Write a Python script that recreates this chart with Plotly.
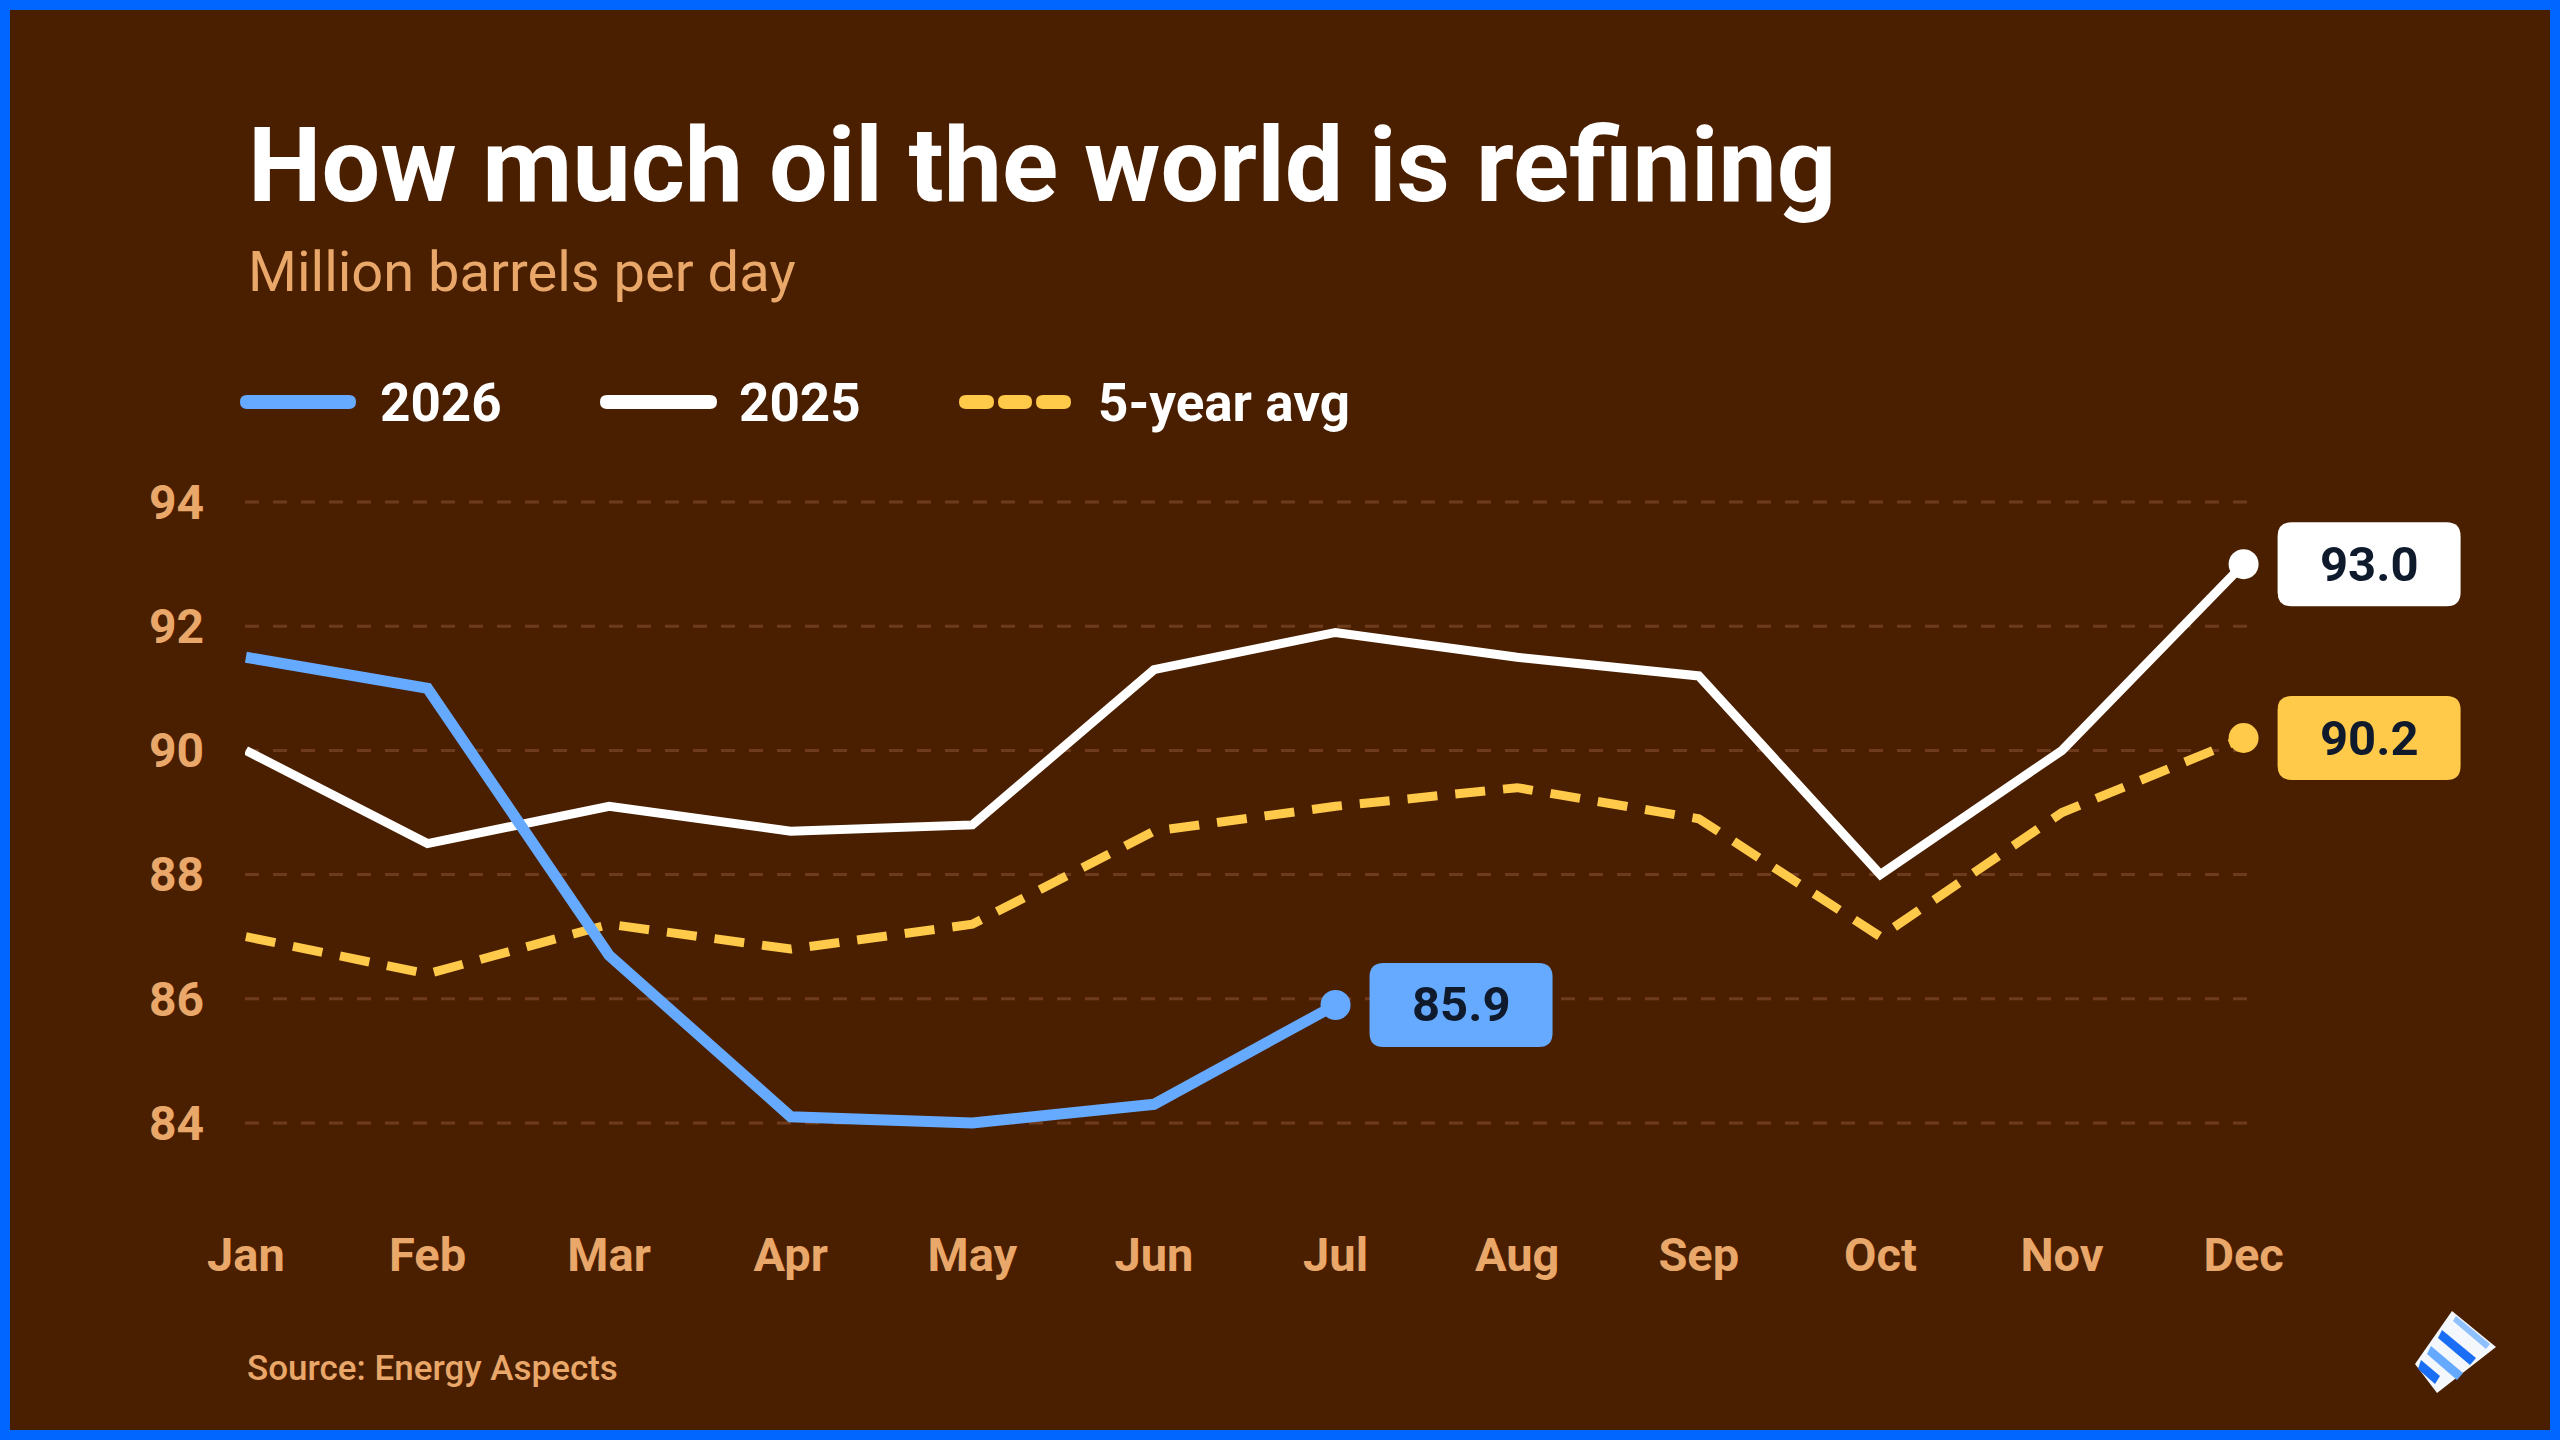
import plotly.graph_objects as go

months = ["Jan", "Feb", "Mar", "Apr", "May", "Jun", "Jul", "Aug", "Sep", "Oct", "Nov", "Dec"]
y2026 = [91.5, 91.0, 86.7, 84.1, 84.0, 84.3, 85.9]
y2025 = [90.0, 88.5, 89.1, 88.7, 88.8, 91.3, 91.9, 91.5, 91.2, 88.0, 90.0, 93.0]
avg5 = [87.0, 86.4, 87.2, 86.8, 87.2, 88.7, 89.1, 89.4, 88.9, 87.0, 89.0, 90.2]
yticks = [84, 86, 88, 90, 92, 94]

BG = "#4A1F00"
TAN = "#E9A76A"
BLUE = "#66AAFF"
WHITE = "#FFFFFF"
YELLOW = "#FFC94A"
NAVY = "#0F1B2D"
GRID = "#6E3C1C"
FRAME = "#0066FF"
FONT = "Roboto"

W, H = 2560, 1440
L, R, T, B = 245, 40, 440, 255
XR = [-0.005, 12.522]   # keeps ~181.6px per month, room for end labels
GRID_END = 11.035


# pixel -> paper coords
def px(x):
    return (x - L) / (W - L - R)


def py(y):
    return (H - B - y) / (H - T - B)


def rrect(x0, x1, y0, y1, r):
    return (f"M{x0 + r},{y0} L{x1 - r},{y0} Q{x1},{y0} {x1},{y0 + r} "
            f"L{x1},{y1 - r} Q{x1},{y1} {x1 - r},{y1} L{x0 + r},{y1} "
            f"Q{x0},{y1} {x0},{y1 - r} L{x0},{y0 + r} Q{x0},{y0} {x0 + r},{y0} Z")


def rrect_paper(x0, x1, y0, y1, r):
    # rounded rect given in page pixels, converted to paper coords
    pts = [
        ("M", [(x0 + r, y0)]), ("L", [(x1 - r, y0)]), ("Q", [(x1, y0), (x1, y0 + r)]),
        ("L", [(x1, y1 - r)]), ("Q", [(x1, y1), (x1 - r, y1)]), ("L", [(x0 + r, y1)]),
        ("Q", [(x0, y1), (x0, y1 - r)]), ("L", [(x0, y0 + r)]), ("Q", [(x0, y0), (x0 + r, y0)]),
    ]
    s = ""
    for cmd, pp in pts:
        s += cmd + " ".join(f"{px(a):.5f},{py(b):.5f}" for a, b in pp) + " "
    return s + "Z"


def poly_paper(points):
    return "M" + " L".join(f"{px(a):.5f},{py(b):.5f}" for a, b in points) + " Z"


fig = go.Figure()

fig.add_trace(go.Scatter(x=months, y=avg5, mode="lines",
                         line=dict(color=YELLOW, width=9, dash="30px,18px"),
                         hoverinfo="skip"))
fig.add_trace(go.Scatter(x=months, y=y2025, mode="lines",
                         line=dict(color=WHITE, width=9), hoverinfo="skip"))
fig.add_trace(go.Scatter(x=months[:len(y2026)], y=y2026, mode="lines",
                         line=dict(color=BLUE, width=11), hoverinfo="skip"))

shapes = []
annotations = []

# dashed gridlines, stopping just after Dec
for t in yticks:
    shapes.append(dict(type="line", xref="x", yref="y", x0=XR[0], x1=GRID_END, y0=t, y1=t,
                       line=dict(color=GRID, width=3, dash="14px,14px"), layer="below"))

# end points + value boxes
ends = [
    (months[len(y2026) - 1], y2026[-1], BLUE),
    (months[-1], y2025[-1], WHITE),
    (months[-1], avg5[-1], YELLOW),
]
for mx, val, col in ends:
    fig.add_trace(go.Scatter(x=[mx], y=[val], mode="markers", cliponaxis=False,
                             marker=dict(color=col, size=30, line=dict(width=0)),
                             hoverinfo="skip"))
    shapes.append(dict(type="path", xref="x", yref="y", xsizemode="pixel", ysizemode="pixel",
                       xanchor=mx, yanchor=val, path=rrect(34, 217, -42, 42, 14),
                       fillcolor=col, line=dict(width=0), layer="above"))
    annotations.append(dict(x=mx, y=val, xref="x", yref="y", xshift=125.5, showarrow=False,
                            text=f"{val:.1f}", xanchor="center", yanchor="middle",
                            font=dict(family=FONT, size=49, weight=700, color=NAVY)))

# titles
annotations.append(dict(x=px(246), y=py(165), xref="paper", yref="paper", showarrow=False,
                        xanchor="left", yanchor="middle", text="How much oil the world is refining",
                        font=dict(family=FONT, size=104, weight=700, color=WHITE)))
annotations.append(dict(x=px(246), y=py(272), xref="paper", yref="paper", showarrow=False,
                        xanchor="left", yanchor="middle", text="Million barrels per day",
                        font=dict(family=FONT, size=56, weight=400, color=TAN)))
annotations.append(dict(x=px(245), y=py(1368), xref="paper", yref="paper", showarrow=False,
                        xanchor="left", yanchor="middle", text="Source: Energy Aspects",
                        font=dict(family=FONT, size=35, weight=500, color=TAN)))

# legend
legend_items = [("2026", BLUE, 240, 356, 378), ("2025", WHITE, 600, 717, 737),
                ("5-year avg", YELLOW, 959, 1071, 1096)]
for name, col, x0, x1, tx in legend_items:
    if name == "5-year avg":
        for a, b in [(959, 994), (998, 1032), (1036, 1071)]:
            shapes.append(dict(type="path", xref="paper", yref="paper",
                               path=rrect_paper(a, b, 395, 409, 7),
                               fillcolor=col, line=dict(width=0)))
    else:
        shapes.append(dict(type="path", xref="paper", yref="paper",
                           path=rrect_paper(x0, x1, 395, 409, 7),
                           fillcolor=col, line=dict(width=0)))
    annotations.append(dict(x=px(tx), y=py(403), xref="paper", yref="paper", showarrow=False,
                            xanchor="left", yanchor="middle", text=name,
                            font=dict(family=FONT, size=53, weight=700, color=WHITE)))

# small cup logo
shapes.append(dict(type="path", xref="paper", yref="paper",
                   path=poly_paper([(2452, 1311), (2496, 1347), (2437, 1393), (2415, 1364)]),
                   fillcolor="#F4F7FB", line=dict(width=0)))
shapes.append(dict(type="path", xref="paper", yref="paper",
                   path=poly_paper([(2456, 1316), (2490, 1344), (2486, 1349), (2453, 1321)]),
                   fillcolor="#8FC1FF", line=dict(width=0)))
shapes.append(dict(type="path", xref="paper", yref="paper",
                   path=poly_paper([(2442, 1330), (2476, 1358), (2470, 1365), (2438, 1338)]),
                   fillcolor="#1A6EF5", line=dict(width=0)))
shapes.append(dict(type="path", xref="paper", yref="paper",
                   path=poly_paper([(2431, 1346), (2463, 1373), (2457, 1380), (2427, 1354)]),
                   fillcolor="#66AAFF", line=dict(width=0)))
shapes.append(dict(type="path", xref="paper", yref="paper",
                   path=poly_paper([(2421, 1360), (2440, 1376), (2435, 1384), (2418, 1369)]),
                   fillcolor="#1A6EF5", line=dict(width=0)))

# blue frame
shapes.append(dict(type="rect", xref="paper", yref="paper",
                   x0=px(5), x1=px(W - 5), y0=py(H - 5), y1=py(5),
                   line=dict(color=FRAME, width=10), fillcolor="rgba(0,0,0,0)"))

fig.update_layout(
    width=W, height=H,
    margin=dict(l=L, r=R, t=T, b=B, autoexpand=False),
    paper_bgcolor=BG, plot_bgcolor=BG,
    showlegend=False,
    shapes=shapes,
    annotations=annotations,
    xaxis=dict(type="category", range=XR, showgrid=False, zeroline=False,
               showline=False, ticks="", ticklabelstandoff=38,
               tickfont=dict(family=FONT, size=47, weight=700, color=TAN)),
    yaxis=dict(range=[83, 95], tickvals=yticks, showgrid=False, zeroline=False,
               showline=False, ticks="", ticklabelstandoff=40,
               tickfont=dict(family=FONT, size=48, weight=700, color=TAN)),
)

fig.write_html("out.html", config={"displayModeBar": False},
               post_script="document.body.style.margin='0';")
